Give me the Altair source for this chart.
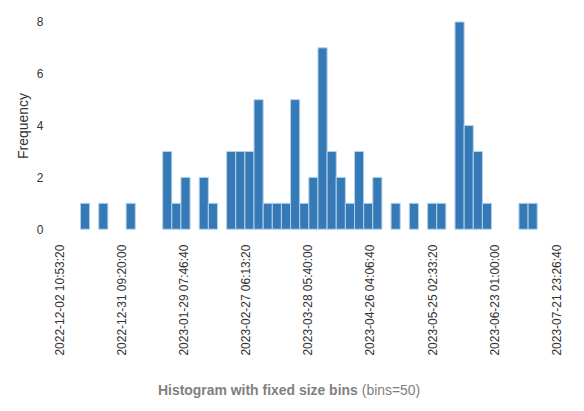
import altair as alt
import pandas as pd

# Histogram definition
first_edge = "2022-12-12 02:00:00"
bin_width_seconds = 368240
counts = [1, 0, 1, 0, 0, 1, 0, 0, 0, 3,
          1, 2, 0, 2, 1, 0, 3, 3, 3, 5,
          1, 1, 1, 5, 1, 2, 7, 3, 2, 1,
          3, 1, 2, 0, 1, 0, 1, 0, 1, 1,
          0, 8, 4, 3, 1, 0, 0, 0, 1, 1]

tick_labels = ["2022-12-02 10:53:20", "2022-12-31 09:20:00", "2023-01-29 07:46:40",
               "2023-02-27 06:13:20", "2023-03-28 05:40:00", "2023-04-26 04:06:40",
               "2023-05-25 02:33:20", "2023-06-23 01:00:00", "2023-07-21 23:26:40"]
y_ticks = [0, 2, 4, 6, 8]

title_bold = "Histogram with fixed size bins"
title_normal = "(bins=50)"
y_title = "Frequency"


def to_ms(s):
    return int(pd.Timestamp(s).value // 1_000_000)


start0 = to_ms(first_edge)
w_ms = bin_width_seconds * 1000
rows = []
for i, c in enumerate(counts):
    if c > 0:
        rows.append({"start": start0 + i * w_ms, "end": start0 + (i + 1) * w_ms,
                     "count": c, "base": 0})
df = pd.DataFrame(rows)

tick_ms = [to_ms(t) for t in tick_labels]

W, H = 498, 208

bars = alt.Chart(df).mark_bar(
    color="#3579b6", stroke="#b5d1ea", strokeWidth=1
).encode(
    x=alt.X("start:Q", scale=alt.Scale(domain=[tick_ms[0], tick_ms[-1]], nice=False, zero=False),
            axis=alt.Axis(values=tick_ms, labelAngle=-90, labelPadding=15,
                          labelExpr="utcFormat(datum.value, '%Y-%m-%d %H:%M:%S')",
                          title=None, labelFontSize=12, labelColor="#333333")),
    x2="end:Q",
    y=alt.Y("count:Q", scale=alt.Scale(domain=[0, 8], nice=False),
            axis=alt.Axis(values=y_ticks, title=y_title, labelPadding=17, labelFontSize=12,
                          labelColor="#333333", titleFontSize=14, titleFontWeight="normal",
                          titleColor="#333333", titlePadding=6)),
    y2="base:Q",
)

t1 = alt.Chart(pd.DataFrame({"t": [title_bold]})).mark_text(
    align="right", baseline="alphabetic", fontWeight="bold", fontSize=14, color="#808080"
).encode(text="t:N", x=alt.value(299), y=alt.value(374.7))

t2 = alt.Chart(pd.DataFrame({"t": [title_normal]})).mark_text(
    align="left", baseline="alphabetic", fontWeight="normal", fontSize=14, color="#808080"
).encode(text="t:N", x=alt.value(303), y=alt.value(374.7))

chart = alt.layer(bars, t1, t2).properties(
    width=W, height=H,
    autosize=alt.AutoSizeParams(type="none"),
    padding={"left": 52, "top": 13.3, "right": 20, "bottom": 176},
).configure(font="Liberation Sans").configure_view(stroke=None).configure_axis(
    domain=False, grid=False, ticks=False
)

chart.save("out.html", embed_options={"renderer": "svg", "actions": False})
